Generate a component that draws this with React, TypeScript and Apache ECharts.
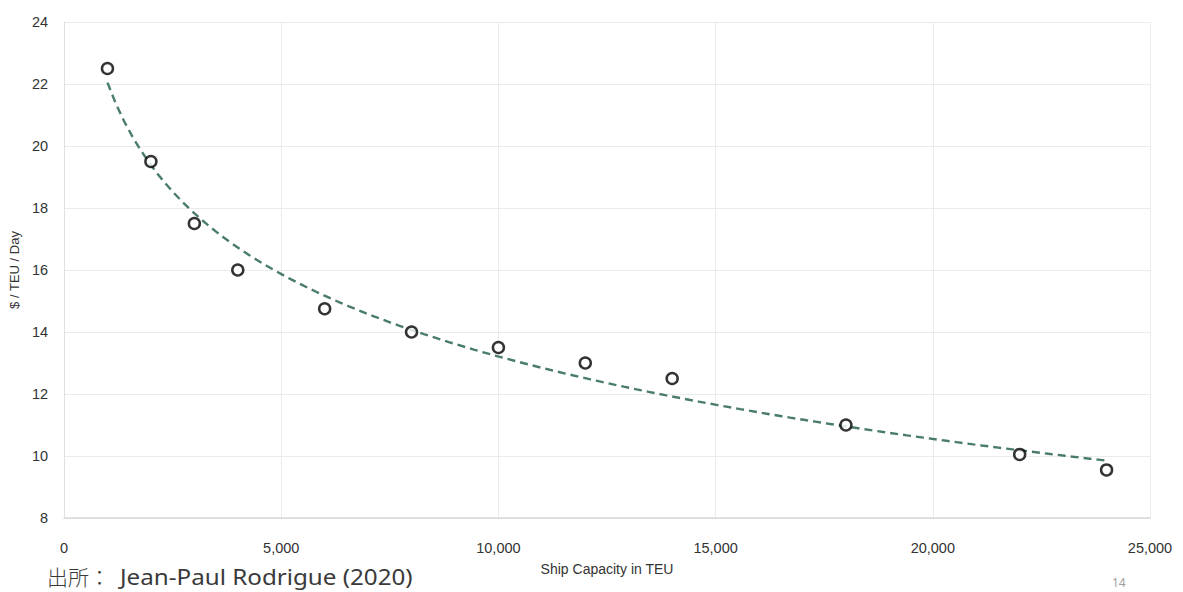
import React, { useEffect, useRef } from "react";
import * as echarts from "echarts";

const capacityTEU = [1000, 2000, 3000, 4000, 6000, 8000, 10000, 12000, 14000, 18000, 22000, 24000];
const costPerTEUDay = [22.5, 19.5, 17.5, 16, 14.75, 14, 13.5, 13, 12.5, 11, 10.05, 9.55];
const xTicks = { min: 0, max: 25000, interval: 5000 };
const yTicks = { min: 8, max: 24, interval: 2 };
const xAxisTitle = "Ship Capacity in TEU";
const yAxisTitle = "$ / TEU / Day";
const sourceLabel = "出所：";
const sourceName = "Jean-Paul Rodrigue (2020)";
const pageNumber = "14";

// Logarithmic least-squares trendline (as Excel's "Logarithmic" trendline) from the data
function logFit(xs: number[], ys: number[]) {
  const L = xs.map((x) => Math.log(x));
  const n = xs.length;
  const mL = L.reduce((a, b) => a + b, 0) / n;
  const mY = ys.reduce((a, b) => a + b, 0) / n;
  let sxy = 0;
  let sxx = 0;
  for (let i = 0; i < n; i++) {
    sxy += (L[i] - mL) * (ys[i] - mY);
    sxx += (L[i] - mL) * (L[i] - mL);
  }
  const b = sxy / sxx;
  const a = mY - b * mL;
  return (x: number) => a + b * Math.log(x);
}

export default function App() {
  const ref = useRef<HTMLDivElement>(null);
  useEffect(() => {
    if (!ref.current) return;
    const chart = echarts.init(ref.current, null, { renderer: "svg" });
    const f = logFit(capacityTEU, costPerTEUDay);
    const x0 = capacityTEU[0];
    const x1 = capacityTEU[capacityTEU.length - 1];
    const trend: number[][] = [];
    const steps = 120;
    for (let i = 0; i <= steps; i++) {
      const x = x0 + ((x1 - x0) * i) / steps;
      trend.push([x, f(x)]);
    }
    const axisFont = "'Liberation Sans Narrow', 'Arial Narrow', 'Liberation Sans', Arial, sans-serif";
    chart.setOption({
      animation: false,
      backgroundColor: "#ffffff",
      grid: { left: 64, right: 33, top: 22, bottom: 74, containLabel: false },
      xAxis: {
        type: "value",
        min: xTicks.min,
        max: xTicks.max,
        interval: xTicks.interval,
        name: xAxisTitle,
        nameLocation: "middle",
        nameGap: 44,
        nameTextStyle: { color: "#333333", fontSize: 14, fontFamily: axisFont },
        axisLine: { show: true, lineStyle: { color: "#d9d9d9", width: 1.5 } },
        axisTick: { show: false },
        axisLabel: {
          color: "#333333",
          fontSize: 14.5,
          fontFamily: axisFont,
          margin: 22,
          formatter: (v: number) => v.toLocaleString("en-US"),
        },
        splitLine: { show: true, lineStyle: { color: "#ebebeb", width: 1 } },
      },
      yAxis: {
        type: "value",
        min: yTicks.min,
        max: yTicks.max,
        interval: yTicks.interval,
        name: yAxisTitle,
        nameLocation: "middle",
        nameGap: 32,
        nameRotate: 90,
        nameTextStyle: { color: "#333333", fontSize: 13, fontFamily: axisFont },
        axisLine: { show: true, lineStyle: { color: "#e0e0e0", width: 1 } },
        axisTick: { show: false },
        axisLabel: { color: "#333333", fontSize: 14.5, fontFamily: axisFont, margin: 16 },
        splitLine: { show: true, lineStyle: { color: "#ebebeb", width: 1 } },
      },
      series: [
        {
          type: "line",
          data: trend,
          showSymbol: false,
          symbol: "none",
          lineStyle: { color: "#4a7c6b", width: 2.4, type: [8, 5] },
          z: 2,
          silent: true,
        },
        {
          type: "scatter",
          data: capacityTEU.map((x, i) => [x, costPerTEUDay[i]]),
          symbol: "circle",
          symbolSize: 11,
          itemStyle: { color: "#ffffff", borderColor: "#000000", borderWidth: 2.5 },
          z: 3,
        },
      ],
      graphic: [
        {
          type: "text",
          x: 47,
          y: 576,
          style: {
            text: sourceLabel,
            fill: "#3a3a3a",
            fontSize: 21,
            fontWeight: 300,
            fontFamily: "'Noto Sans CJK JP', sans-serif",
            verticalAlign: "middle",
          },
        },
        {
          type: "text",
          x: 120,
          y: 576,
          scaleX: 1.1,
          style: {
            text: sourceName,
            fill: "#3a3a3a",
            fontSize: 22,
            fontFamily: "'Noto Sans', sans-serif",
            verticalAlign: "middle",
          },
        },
        {
          type: "text",
          left: 1112,
          top: 576,
          style: {
            text: pageNumber,
            fill: "#a0a0a0",
            fontSize: 12,
            fontFamily: "'Noto Sans', sans-serif",
          },
        },
      ],
    });
    return () => chart.dispose();
  }, []);
  return (
    <div
      ref={ref}
      style={{ position: "fixed", left: 0, top: 0, width: 1183, height: 592, background: "#fff" }}
    />
  );
}
